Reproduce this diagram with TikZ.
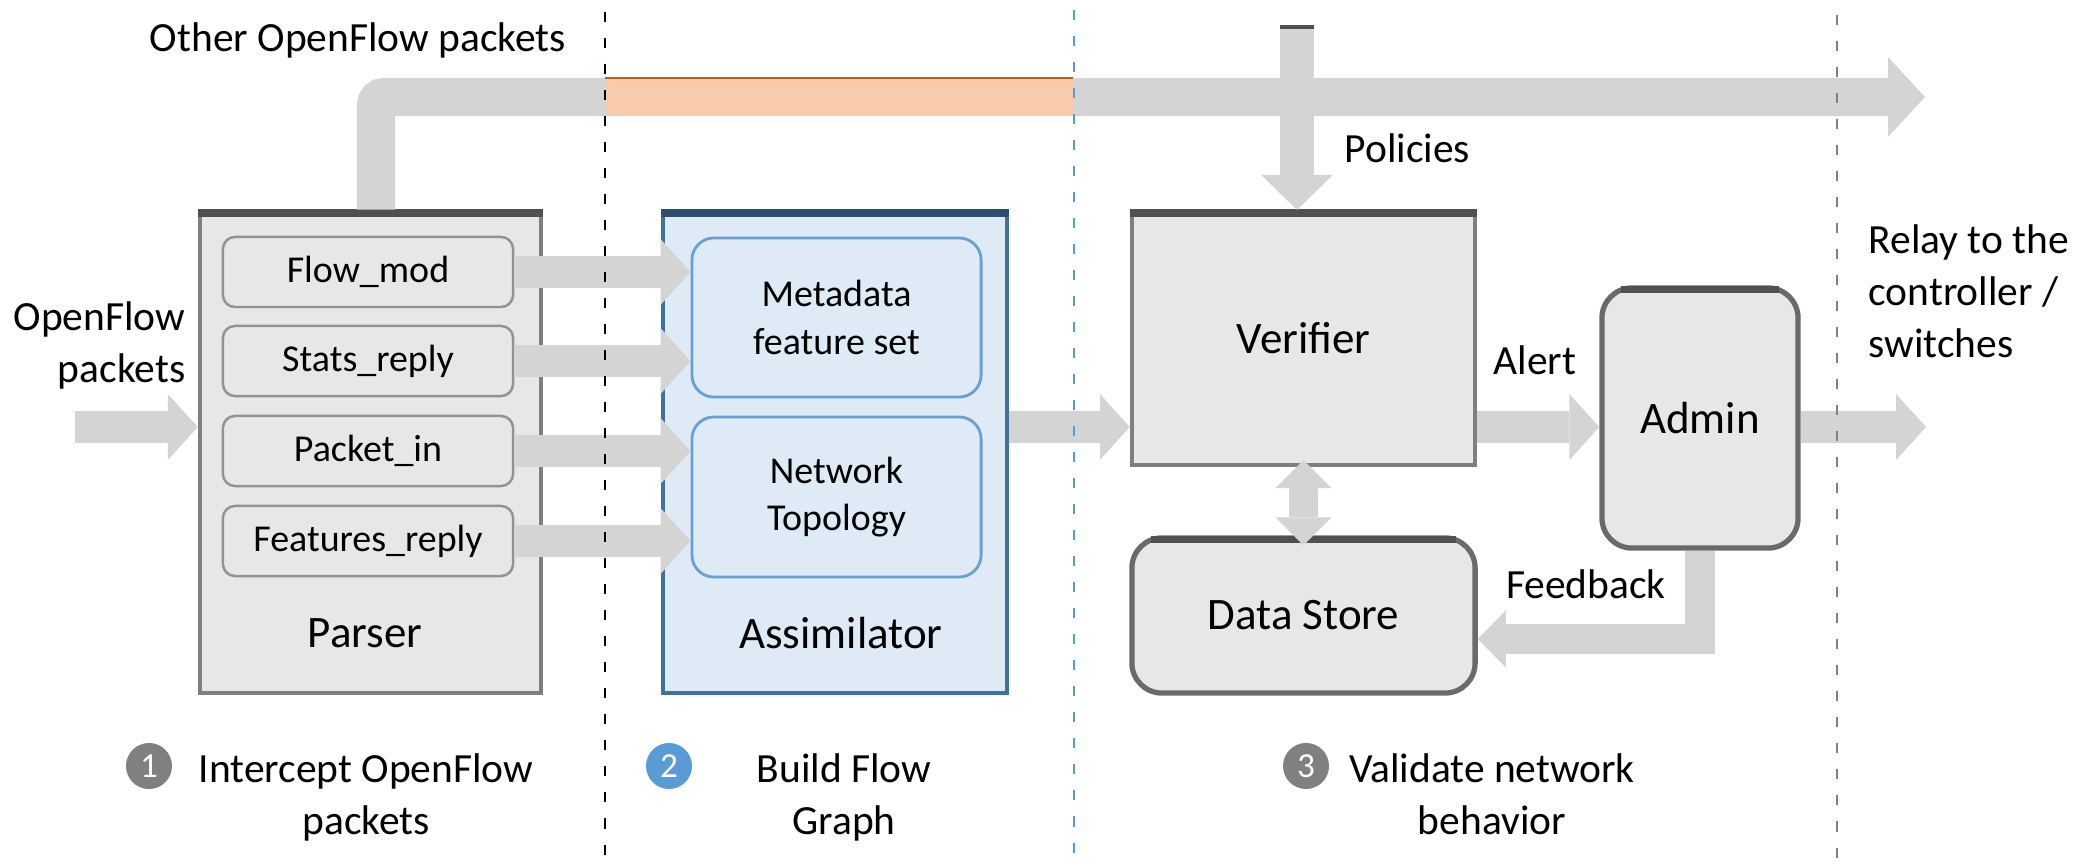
\documentclass[tikz,border=0pt]{standalone}
\usepackage{fontspec}
\setmainfont{Carlito}
\usetikzlibrary{arrows.meta,calc}

\definecolor{arrowgray}{HTML}{D4D4D4}
\definecolor{boxgray}{HTML}{E7E7E7}
\definecolor{edgegray}{HTML}{7F7F7F}
\definecolor{topgray}{HTML}{505050}
\definecolor{assimfill}{HTML}{DEEAF6}
\definecolor{assimedge}{HTML}{41719C}
\definecolor{innerblue}{HTML}{6A9FD0}
\definecolor{stepblue}{HTML}{5B9BD5}
\definecolor{stepgray}{HTML}{808080}
\definecolor{peach}{HTML}{F8CBAD}
\definecolor{peachedge}{HTML}{C55A11}

\newcommand{\bigfont}{\fontsize{12.8}{15}\selectfont}
\newcommand{\msgfont}{\fontsize{10.8}{13.5}\selectfont}
\newcommand{\notefont}{\fontsize{11.8}{14.8}\selectfont}

\tikzset{
  block/.style={draw=edgegray, fill=boxgray, line width=1.2pt, minimum width=3.43cm, font=\bigfont},
  roundblock/.style={block, draw=topgray!85, line width=1.5pt, rounded corners=0.3cm},
  msgbox/.style={draw=edgegray!85, fill=boxgray, rounded corners=0.12cm, line width=0.7pt,
    minimum width=2.9cm, minimum height=0.7cm, font=\msgfont},
  featbox/.style={draw=innerblue, fill=assimfill, rounded corners=0.22cm, line width=0.8pt,
    minimum width=2.89cm, minimum height=1.59cm, align=center, font=\msgfont},
  topedge/.style={topgray, line width=2.2pt},
  fat/.style={arrowgray, line width=0.32cm, -{Triangle[width=0.66cm,length=0.30cm,line width=0pt]}},
  note/.style={font=\notefont, inner sep=0pt},
  stepnum/.style={circle, fill=#1, text=white, minimum size=0.46cm, inner sep=0pt,
    font=\fontsize{10}{12}\selectfont},
  divider/.style={dash pattern=on 0.10cm off 0.16cm, line width=0.6pt}
}

\begin{document}
\begin{tikzpicture}[x=0.01cm, y=-0.01cm]
  \useasboundingbox (0,0) rectangle (2079,864);

  % Stage 1: parser and its message types
  \node[block, minimum width=3.41cm, minimum height=4.81cm] (parser) at (370.5,452.5) {};
  \draw[topedge] ([yshift=-1pt]parser.north west) -- ([yshift=-1pt]parser.north east);
  \node[font=\bigfont] (parsername) at (365,633) {Parser};
  \foreach \name/\txt/\y in {flowmod/Flow\_mod/272, statsreply/Stats\_reply/361,
                             packetin/Packet\_in/451, featreply/Features\_reply/541}
    \node[msgbox] (\name) at (368,\y) {\txt};

  % Stage 2: assimilator
  \node[block, fill=assimfill, draw=assimedge, minimum width=3.44cm, minimum height=4.81cm] (assim) at (835,452.5) {};
  \draw[topedge, assimedge!70!black] ([yshift=-1pt]assim.north west) -- ([yshift=-1pt]assim.north east);
  \node[featbox] (meta) at (836.5,317.5) {Metadata\\feature set};
  \node[featbox, minimum height=1.6cm] (topo) at (836.5,497) {Network\\Topology};
  \node[font=\bigfont] (assimname) at (841,633) {Assimilator};

  % Stage 3: verifier, data store and admin
  \node[block, minimum height=2.53cm] (verifier) at (1303.5,338.5) {Verifier};
  \draw[topedge] ([yshift=-1pt]verifier.north west) -- ([yshift=-1pt]verifier.north east);
  \node[roundblock, minimum height=1.55cm] (store) at (1303.5,615.5) {Data Store};
  \draw[topedge] ([shift={(0.22cm,-1.2pt)}]store.north west) -- ([shift={(-0.22cm,-1.2pt)}]store.north east);
  \node[roundblock, minimum width=1.96cm, minimum height=2.6cm] (admin) at (1700,418) {Admin};
  \draw[topedge] ([shift={(0.22cm,-1.2pt)}]admin.north west) -- ([shift={(-0.22cm,-1.2pt)}]admin.north east);

  % Bypass for the other packets
  \coordinate (relay) at (1925,97);
  \draw[fat, line width=0.38cm, -{Triangle[width=0.80cm,length=0.37cm,line width=0pt]},
        rounded corners=0.08cm] ([xshift=0.055cm]parser.north) |- (relay);
  \fill[peach] (605,78) rectangle (1073,116);
  \draw[peachedge, line width=0.6pt] (605,78) -- (1073,78);

  % Message arrows into the assimilator
  \foreach \name in {flowmod, statsreply}
    \draw[fat] (\name.east) -- (\name.east -| meta.west);
  \foreach \name in {packetin, featreply}
    \draw[fat] (\name.east) -- (\name.east -| topo.west);

  % Main flow
  \coordinate (in) at (75,427);
  \coordinate (out) at (1926,427);
  \draw[fat] (in) -- (in -| parser.west);
  \draw[fat] (assim.east |- in) -- (verifier.west |- in);
  \draw[fat] (verifier.east |- in) -- (admin.west |- in);
  \draw[fat] (admin.east |- in) -- (out);

  % Policies, store access and feedback
  \coordinate (policy) at (1297,27);
  \draw[fat, line width=0.34cm, -{Triangle[width=0.72cm,length=0.35cm,line width=0pt]}]
    (policy) -- (policy |- verifier.north);
  \draw[topgray, line width=1pt] ([xshift=-0.17cm]policy) -- ([xshift=0.17cm]policy);
  \draw[fat, line width=0.29cm,
        {Triangle[width=0.56cm,length=0.28cm,line width=0pt]}-{Triangle[width=0.56cm,length=0.28cm,line width=0pt]}]
    ([yshift=0.07cm]verifier.south) -- ([yshift=-0.1cm]store.north);
  \draw[fat, line width=0.30cm, -{Triangle[width=0.57cm,length=0.28cm,line width=0pt]}]
    (admin.south) |- ([yshift=-0.235cm]store.east);

  % Stage dividers
  \draw[divider] (605,12) -- (605,864);
  \draw[divider, stepblue] (1074,10) -- (1074,864);
  \draw[divider, gray] (1837,15) -- (1837,864);

  % Labels
  \node[note, anchor=base] (otherlbl) at (358,52) {Other OpenFlow packets};
  \node[note, align=right, anchor=north east] (inlbl) at (186,301) {OpenFlow\\packets};
  \node[note, anchor=base west] (policylbl) at (1344,163) {Policies};
  \node[note, anchor=base] (alertlbl) at (1535,375) {Alert};
  \node[note, anchor=base] (feedbacklbl) at (1586,598) {Feedback};
  \node[note, align=left, anchor=north west] (relaylbl) at (1868,224) {Relay to the\\controller /\\switches};

  % Stage captions
  \node[stepnum=stepgray] (one) at (149,766) {1};
  \node[note, align=center, anchor=north] (onelbl) at (366,753) {Intercept OpenFlow\\packets};
  \node[stepnum=stepblue] (two) at (669,766) {2};
  \node[note, align=center, anchor=north] (twolbl) at (844,753) {Build Flow\\Graph};
  \node[stepnum=stepgray] (three) at (1306,766) {3};
  \node[note, align=center, anchor=north] (threelbl) at (1492,753) {Validate network\\behavior};
\end{tikzpicture}
\end{document}
